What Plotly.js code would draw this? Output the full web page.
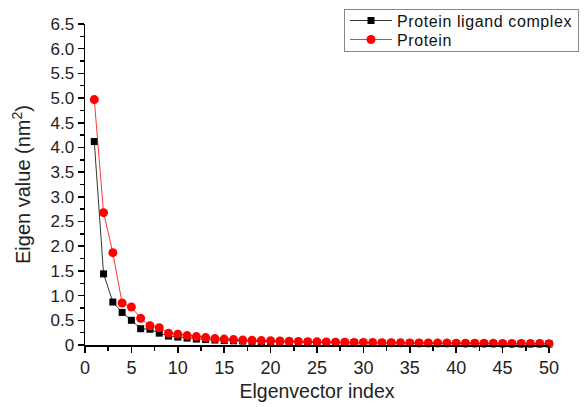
<!DOCTYPE html>
<html><head><meta charset="utf-8">
<script src="https://cdn.plot.ly/plotly-3.0.1.min.js"></script>
<style>body{margin:0;background:#fff}#c{width:584px;height:407px}.legendtext{letter-spacing:0.6px}</style>
</head><body><div id="c"></div>
<script>
const idx = Array.from({length:50},(_,i)=>i+1);
const complexVals = [4.12,1.44,0.87,0.66,0.50,0.33,0.32,0.24,0.18,0.16,
 0.14,0.12,0.11,0.10,0.09,0.085,0.08,0.075,0.07,0.065,
 0.062,0.06,0.057,0.055,0.052,0.05,0.048,0.046,0.044,0.042,
 0.04,0.039,0.038,0.037,0.036,0.035,0.034,0.033,0.032,0.031,
 0.03,0.029,0.028,0.027,0.026,0.025,0.025,0.024,0.023,0.022];
const proteinVals = [4.97,2.68,1.87,0.85,0.77,0.54,0.39,0.35,0.24,0.22,
 0.19,0.17,0.15,0.13,0.12,0.11,0.10,0.095,0.09,0.085,
 0.08,0.075,0.07,0.067,0.064,0.061,0.058,0.055,0.053,0.051,
 0.049,0.047,0.045,0.044,0.042,0.041,0.04,0.039,0.038,0.037,
 0.036,0.035,0.034,0.033,0.032,0.031,0.03,0.029,0.028,0.027];
const names = ['Protein ligand complex','Protein'];
const xTicks = [0,5,10,15,20,25,30,35,40,45,50];
const yTicks = [0,0.5,1.0,1.5,2.0,2.5,3.0,3.5,4.0,4.5,5.0,5.5,6.0,6.5];
const yTickText = ['0','0.5','1.0','1.5','2.0','2.5','3.0','3.5','4.0','4.5','5.0','5.5','6.0','6.5'];

const traces = [
 {x: idx, y: complexVals, name: names[0], mode:'lines+markers', type:'scatter',
  line:{color:'#000', width:0.8}, marker:{symbol:'square', color:'#000', size:7}, cliponaxis:false},
 {x: idx, y: proteinVals, name: names[1], mode:'lines+markers', type:'scatter',
  line:{color:'#ff0000', width:0.8}, marker:{symbol:'circle', color:'#ff0000', size:9}, cliponaxis:false}
];
const fam = 'Liberation Sans, Arial, sans-serif';
const layout = {
 width:584, height:407,
 margin:{l:85, r:35, t:24, b:62},
 paper_bgcolor:'#fff', plot_bgcolor:'#fff',
 font: {family:fam, size:17, color:'#222'},
 showlegend:true,
 legend:{x:0.98, xanchor:'right', y:0.98, yanchor:'top',
   bordercolor:'#888', borderwidth:1, bgcolor:'#fff',
   font:{size:16, family:fam, color:'#111'}, tracegroupgap:0, itemwidth:42},
 xaxis:{range:[0,50], tickvals:xTicks, ticks:'outside', ticklen:6, tickwidth:1.5, tickcolor:'#000',
   minor:{dtick:2.5, tick0:0, ticks:'outside', ticklen:4, tickwidth:1.5, tickcolor:'#000'},
   showline:true, linecolor:'#000', linewidth:1.5, showgrid:false, zeroline:false,
   tickfont:{size:18, family:fam, color:'#222'},
   title:{text:'Elgenvector index', font:{size:19.5, family:fam, color:'#222'}, standoff:7}},
 yaxis:{range:[0,6.5], tickvals:yTicks, ticktext:yTickText, ticks:'outside', ticklen:6, tickwidth:1.5, tickcolor:'#000',
   minor:{dtick:0.25, tick0:0, ticks:'outside', ticklen:4, tickwidth:1.5, tickcolor:'#000'},
   showline:true, linecolor:'#000', linewidth:1.5, showgrid:false, zeroline:false,
   tickfont:{size:17, family:fam, color:'#222'},
   title:{text:'Eigen value (nm<sup>2</sup>)', font:{size:20, family:fam, color:'#222'}, standoff:14}}
};
Plotly.newPlot('c', traces, layout, {displayModeBar:false, staticPlot:true}).then(gd => {
  const lg = gd.querySelector('g.legend');
  const w = gd._fullLayout.legend._width;
  if (!lg || !w) return;
  lg.setAttribute('transform', 'translate(' + (579 - w) + ',9)');
  const items = lg.querySelectorAll('g.traces');
  items.forEach((g, i) => {
    const m = /translate\(\s*([-\d.]+)/.exec(g.getAttribute('transform') || '');
    const tx = m ? parseFloat(m[1]) : 0;
    g.setAttribute('transform', 'translate(' + tx + ',' + (11.5 + 19 * i) + ')');
  });
  const sb = lg.querySelector('g.scrollbox');
  if (sb) sb.setAttribute('transform', 'translate(0,0)');
  const bg = lg.querySelector('rect.bg');
  if (bg) bg.setAttribute('height', 42);
});
</script></body></html>
